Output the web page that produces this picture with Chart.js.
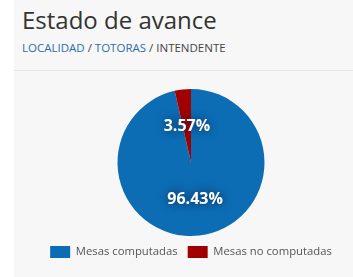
<!DOCTYPE html>
<html>
<head>
<meta charset="utf-8">
<script src="https://cdn.jsdelivr.net/npm/chart.js@4"></script>
<style>
    body { margin: 0; width: 353px; height: 277px; background: #fff; overflow: hidden; font-family: "Open Sans", sans-serif; }
    .panel { position: absolute; left: 14px; top: 0; width: 339px; height: 277px; background: #f7f7f7; }
    h1 { position: absolute; left: 8px; top: 3px; margin: 0; font-size: 24px; font-weight: 400; color: #333; }
    .crumb { position: absolute; left: 8px; top: 40px; font-size: 11.5px; color: #444; white-space: nowrap; }
    .crumb a { color: #2a6fa8; text-decoration: none; }
    .divider { position: absolute; left: 0; top: 70px; width: 339px; height: 1px; background: #e6e6e6; }
    .chart-box { position: absolute; left: 0; top: 80px; width: 339px; height: 188px; }
</style>
</head>
<body>
<div class="panel">
    <h1>Estado de avance</h1>
    <div class="crumb"><a>LOCALIDAD</a> / <a>TOTORAS</a> / INTENDENTE</div>
    <div class="divider"></div>
    <div class="chart-box"><canvas id="avance"></canvas></div>
</div>
<script>
// datos
const categorias = ["Mesas computadas", "Mesas no computadas"];
const porcentajes = [96.43, 3.57];
const colores = ["#0c6db5", "#a00000"];

// etiquetas de porcentaje sobre cada porción
const etiquetasPlugin = {
    id: "etiquetas",
    afterDatasetsDraw(chart) {
        const ctx = chart.ctx;
        const meta = chart.getDatasetMeta(0);
        ctx.save();
        ctx.font = "bold 16px 'Open Sans'";
        ctx.fillStyle = "#ffffff";
        ctx.textAlign = "center";
        ctx.textBaseline = "middle";
        ctx.shadowColor = "rgba(20,30,60,0.95)";
        ctx.shadowBlur = 8;
        meta.data.forEach(function (arc, i) {
            const p = arc.tooltipPosition();
            ctx.fillText(porcentajes[i].toFixed(2) + "%", p.x, p.y);
        });
        ctx.restore();
    },
};

new Chart(document.querySelector("#avance"), {
    type: "pie",
    data: {
        labels: categorias,
        datasets: [
            {
                data: porcentajes,
                backgroundColor: colores,
                borderWidth: 0,
            },
        ],
    },
    options: {
        responsive: true,
        maintainAspectRatio: false,
        animation: false,
        layout: { padding: { top: 9, left: 15 } },
        plugins: {
            tooltip: { enabled: false },
            legend: {
                position: "bottom",
                labels: {
                    boxWidth: 20,
                    boxHeight: 12,
                    padding: 10,
                    color: "#555",
                    font: { family: "'Open Sans'", size: 11.3 },
                },
            },
        },
    },
    plugins: [etiquetasPlugin],
});
</script>
</body>
</html>
